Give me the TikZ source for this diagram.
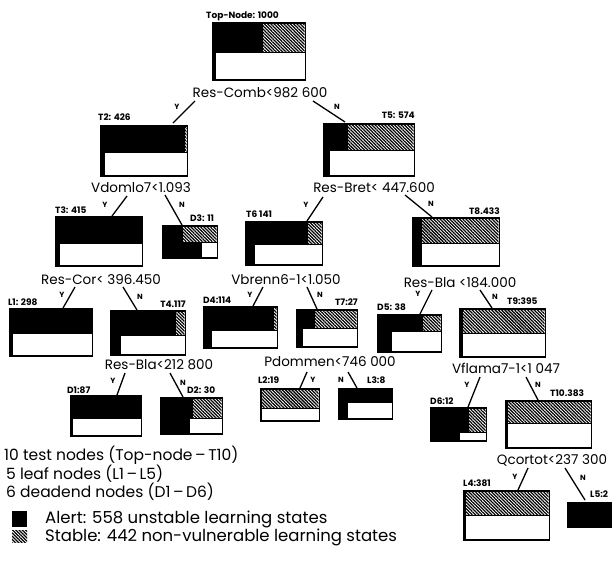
\documentclass[tikz,border=0pt]{standalone}
\usepackage{fontspec}
\setmainfont{Poppins}
\usetikzlibrary{patterns.meta}
\tikzset{
  cond/.style={font=\fontsize{13.5}{14}\selectfont, inner sep=0},
  lab/.style={font=\bfseries\fontsize{9}{10}\selectfont, inner sep=0},
  yn/.style={font=\bfseries\fontsize{7.5}{8}\selectfont, inner sep=0},
  conn/.style={line width=1.3pt},
  hatch/.style={pattern={Lines[angle=-45,distance=2.3pt,line width=1.25pt]}},
  legend/.style={font=\fontsize{15.5}{16}\selectfont, inner sep=0, anchor=west},
  legendb/.style={font=\fontsize{16.5}{17}\selectfont, inner sep=0, anchor=west},
}
\newcommand\tbox[8]{%
  \node[fill=black, inner sep=0, outer sep=0, minimum width={(#4-#2)*1pt}, minimum height={(#5-#3)*1pt}] (#1) at ({(#2+#4)/2},{(#3+#5)/2}) {};
  \ifdim #6pt<\dimexpr #4pt-2pt\relax
    \fill[white] (#6,#3+1.5) rectangle (#4-1.5,#7);
    \fill[hatch] (#6,#3+1.5) rectangle (#4-1.5,#7);
  \fi
  \ifdim #8pt<\dimexpr #4pt-2pt\relax
    \fill[white] (#8,#7+1) rectangle (#4-1.5,#5-2);
  \fi
}
\newcommand\conn[5]{%
  \coordinate (#1a) at (#2,#3);
  \coordinate (#1b) at (#4,#5);
  \draw[conn] (#1a) -- (#1b);
}
\begin{document}
\begin{tikzpicture}[x=1pt,y=-1pt]
\useasboundingbox (0,0) rectangle (612,563);
\clip (0,0) rectangle (612,563);

% boxes
\tbox{top}{212}{22}{306}{81}{263}{52}{216}
\tbox{t2}{100}{125}{188}{177}{185}{152}{105}
\tbox{t5}{323}{123}{415}{177}{348}{150}{330}
\tbox{t3}{55}{216}{143}{267}{143}{243}{60}
\tbox{d3}{162}{225}{218}{259}{183}{242}{202}
\tbox{t6}{245}{221}{323}{266}{308}{244}{255}
\tbox{t8}{412}{217}{500}{267}{422}{243}{422}
\tbox{l1}{9}{308}{93}{357}{93}{333}{13}
\tbox{t4}{110}{310}{186}{356}{176}{335}{121}
\tbox{d4}{203}{306}{278}{349}{274}{330}{212}
\tbox{t7}{296}{309}{358}{348}{315}{328}{303}
\tbox{d5}{377}{314}{442}{353}{423}{331}{392}
\tbox{t9}{459}{308}{546}{358}{463}{333}{463}
\tbox{d1}{70}{395}{142}{437}{142}{418}{73}
\tbox{d2}{160}{397}{223}{435}{193}{418}{190}
\tbox{l2}{260}{388}{320}{422}{262}{408}{262}
\tbox{l3}{338}{388}{393}{420}{393}{402}{348}
\tbox{d6}{430}{407}{487}{442}{469}{432}{460}
\tbox{t10}{505}{400}{592}{449}{508}{423}{508}
\tbox{l4}{463}{490}{550}{541}{466}{515}{466}
\tbox{l5}{567}{502}{620}{528}{620}{528}{620}

% box labels
\node[lab,anchor=west] (ltop) at (206,16) {Top-Node: 1000};
\node[lab,anchor=west] (lt2) at (98,117) {T2: 426};
\node[lab,anchor=east] (lt5) at (415,115) {T5: 574};
\node[lab,anchor=west] (lt3) at (55,210) {T3: 415};
\node[lab,anchor=west] (ld3) at (190,218) {D3: 11};
\node[lab,anchor=west] (lt6) at (246,214) {T6 141};
\node[lab,anchor=east] (lt8) at (500,211) {T8.433};
\node[lab,anchor=west] (ll1) at (8,302) {L1: 298};
\node[lab,anchor=east] (lt4) at (186,304) {T4.117};
\node[lab,anchor=west] (ld4) at (203,300) {D4:114};
\node[lab,anchor=east] (lt7) at (358,302) {T7:27};
\node[lab,anchor=west] (ld5) at (377,307) {D5: 38};
\node[lab,anchor=west] (lt9) at (507,301) {T9:395};
\node[lab,anchor=west] (ld1) at (67,390) {D1:87};
\node[lab,anchor=west] (ld2) at (187,390) {D2: 30};
\node[lab,anchor=west] (ll2) at (258,380) {L2:19};
\node[lab,anchor=west] (ll3) at (367,380) {L3:8};
\node[lab,anchor=west] (ld6) at (430,401) {D6:12};
\node[lab,anchor=west] (lt10) at (550,393) {T10.383};
\node[lab,anchor=west] (ll4) at (463,483) {L4:381};
\node[lab,anchor=west] (ll5) at (590,494) {L5:2};

% conditions
\node[cond] (c1) at (260,93) {Res-Comb<982 600};
\node[cond] (c2) at (141,188) {Vdomlo7<1.093};
\node[cond] (c3) at (374,188) {Res-Bret< 447.600};
\node[cond] (c4) at (101,280) {Res-Cor< 396.450};
\node[cond] (c5) at (286,280) {Vbrenn6-1<1.050};
\node[cond] (c6) at (460,283) {Res-Bla <184.000};
\node[cond] (c7) at (159,365) {Res-Bla<212 800};
\node[cond] (c8) at (330,362) {Pdommen<746 000};
\node[cond] (c9) at (506,368) {Vflama7-1<1 047};
\node[cond] (c10) at (552,460) {Qcortot<237 300};

% connectors
\conn{k1y}{195}{101}{173}{123}
\conn{k1n}{313}{101}{345}{122}
\conn{k2y}{127}{196}{112}{216}
\conn{k2n}{165}{195}{182}{225}
\conn{k3y}{323}{197}{307}{221}
\conn{k3n}{405}{195}{432}{217}
\conn{k4y}{75}{287}{63}{308}
\conn{k4n}{123}{287}{137}{310}
\conn{k5y}{263}{287}{253}{306}
\conn{k5n}{307}{287}{317}{309}
\conn{k6y}{432}{290}{420}{314}
\conn{k6n}{480}{290}{492}{308}
\conn{k7y}{125}{373}{117}{395}
\conn{k7n}{170}{373}{183}{397}
\conn{k8y}{307}{372}{300}{388}
\conn{k8n}{348}{372}{357}{388}
\conn{k9y}{480}{377}{468}{407}
\conn{k9n}{526}{377}{538}{400}
\conn{k10y}{528}{468}{518}{490}
\conn{k10n}{565}{468}{585}{500}

% Y / N labels
\node[yn] (y1) at (177,107) {Y};
\node[yn] (n1) at (337,107) {N};
\node[yn] (y2) at (105,205) {Y};
\node[yn] (n2) at (182,205) {N};
\node[yn] (y3) at (306,205) {Y};
\node[yn] (n3) at (431,204) {N};
\node[yn] (y4) at (62,295) {Y};
\node[yn] (n4) at (140,297) {N};
\node[yn] (y5) at (250,295) {Y};
\node[yn] (n5) at (320,295) {N};
\node[yn] (y6) at (418,294) {Y};
\node[yn] (n6) at (495,297) {N};
\node[yn] (y7) at (113,381) {Y};
\node[yn] (n7) at (183,383) {N};
\node[yn] (y8) at (313,380) {Y};
\node[yn] (n8) at (341,380) {N};
\node[yn] (y9) at (467,385) {Y};
\node[yn] (n9) at (538,385) {N};
\node[yn] (y10) at (515,477) {Y};
\node[yn] (n10) at (583,478) {N};

% legend
\node[legend] (g1) at (4,455) {10 test nodes (Top-node\,–\,T10)};
\node[legend] (g2) at (6,474) {5 leaf nodes (L1\,–\,L5)};
\node[legend] (g3) at (6,492) {6 deadend nodes (D1\,–\,D6)};
\node[fill=black, inner sep=0, minimum width=15pt, minimum height=16pt] (sqA) at (19.5,518.5) {};
\fill[white] (12,530) rectangle (27,542);
\fill[hatch] (12,530) rectangle (27,542);
\node[inner sep=0, minimum width=15pt, minimum height=12pt] (sqS) at (19.5,536) {};
\node[legendb] (g4) at (45,519) {Alert: 558 unstable learning states};
\node[legendb] (g5) at (45,537) {Stable: 442 non-vulnerable learning states};
\end{tikzpicture}
\end{document}
